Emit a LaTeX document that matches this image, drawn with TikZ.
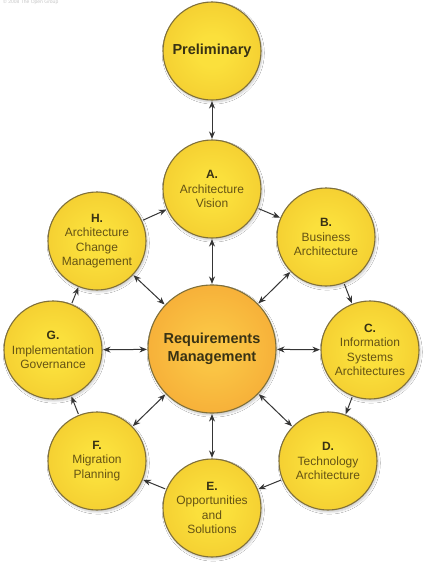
\documentclass[tikz,border=0pt]{standalone}
\usepackage{fontspec}
\setmainfont{Liberation Sans}
\usetikzlibrary{arrows.meta,shadows.blur}
\definecolor{yin}{HTML}{FBE03C}
\definecolor{yout}{HTML}{ECBA24}
\definecolor{oin}{HTML}{FAC444}
\definecolor{oout}{HTML}{F2952A}
\definecolor{rim}{HTML}{80703A}
\definecolor{body}{HTML}{655314}
\definecolor{ttl}{HTML}{383214}
\definecolor{arrowc}{HTML}{353535}
\pgfdeclareradialshading{yball}{\pgfpoint{0bp}{0bp}}{color(0bp)=(yin); color(8bp)=(yin); color(50bp)=(yout)}
\pgfdeclareradialshading{oball}{\pgfpoint{0bp}{0bp}}{color(0bp)=(oin); color(8bp)=(oin); color(50bp)=(oout)}
\begin{document}
\begin{tikzpicture}[x=1pt,y=-1pt,
  phase/.style={circle, draw=rim, line width=1.1pt, minimum size=98pt, inner sep=0pt,
    shading=yball, align=center, text=body, font=\fontsize{12}{14.3}\selectfont,
    blur shadow={shadow xshift=1.2pt, shadow yshift=-2pt, shadow blur steps=6, shadow opacity=22}},
  core/.style={phase, minimum size=128pt, shading=oball, text=ttl,
    font=\bfseries\fontsize{14.5}{17.5}\selectfont},
  tip/.tip={Stealth[length=7.5pt,width=6pt]},
  arr/.style={-tip, line width=1pt, draw=arrowc, shorten >=0.5pt, shorten <=1pt},
  dbl/.style={tip-tip, line width=1pt, draw=arrowc, shorten >=0.5pt, shorten <=0.5pt}]
\newcommand{\ttlx}[1]{{\bfseries\color{ttl}#1}}
\fill[white] (0,0) rectangle (430,563);
\useasboundingbox (0,0) rectangle (430,563);
\node[anchor=north west, inner sep=0pt, font=\fontsize{5}{6}\selectfont, text=black!22] (copy) at (3,0) {\textcopyright\ 2008 The Open Group};

\node[phase, text=ttl, font=\bfseries\fontsize{14.5}{17}\selectfont] (P) at (212,51) {Preliminary};
\node[core] (R) at (212,349) {Requirements\\Management};
\node[phase] (A) at (212,189) {\ttlx{A.}\\Architecture\\Vision};
\node[phase] (B) at (326,237) {\ttlx{B.}\\Business\\Architecture};
\node[phase] (C) at (370,350) {\ttlx{C.}\\Information\\Systems\\Architectures};
\node[phase] (D) at (328,461) {\ttlx{D.}\\Technology\\Architecture};
\node[phase] (E) at (212,508) {\ttlx{E.}\\Opportunities\\and\\Solutions};
\node[phase] (F) at (97,461) {\ttlx{F.}\\Migration\\Planning};
\node[phase] (G) at (53,350) {\ttlx{G.}\\Implementation\\Governance};
\node[phase] (H) at (97,241) {\ttlx{H.}\\Architecture\\Change\\Management};

\draw[dbl] (P) -- (A);
\draw[arr] (A) -- (B);
\draw[arr] (B) -- (C);
\draw[arr] (C) -- (D);
\draw[arr] (D) -- (E);
\draw[arr] (E) -- (F);
\draw[arr] (F) -- (G);
\draw[arr] (G) -- (H);
\draw[arr] (H) -- (A);
\foreach \n in {A,B,C,D,E,F,G,H}{\draw[dbl] (R) -- (\n);}
\end{tikzpicture}
\end{document}
